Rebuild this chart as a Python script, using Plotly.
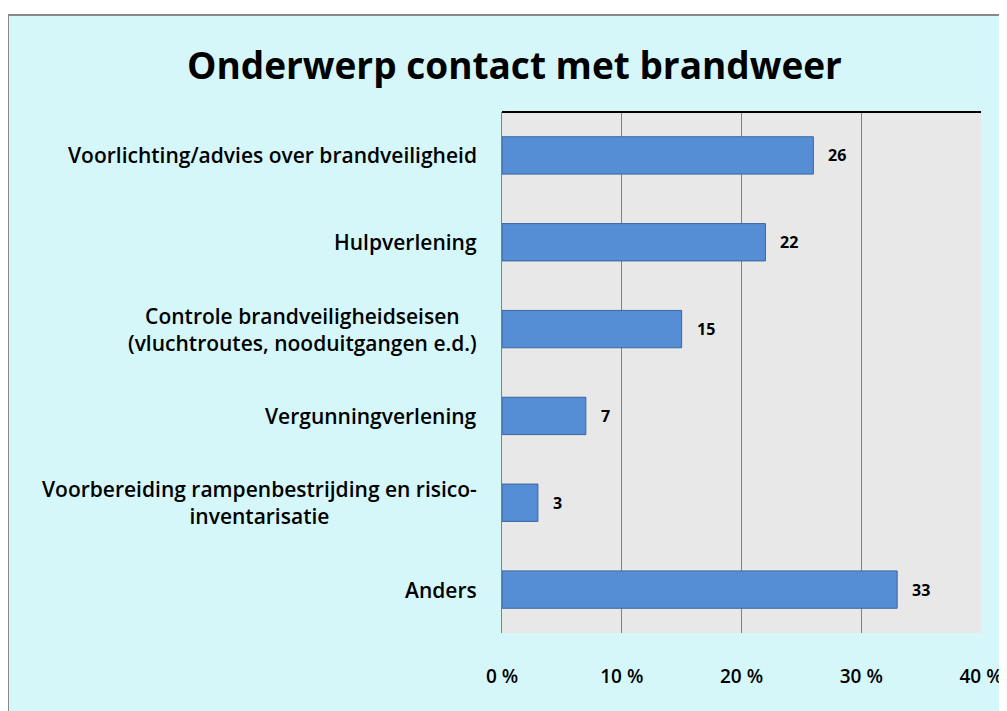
import plotly.graph_objects as go

categories = [
    "Voorlichting/advies over brandveiligheid",
    "Hulpverlening",
    "Controle brandveiligheidseisen<br>(vluchtroutes, nooduitgangen e.d.)",
    "Vergunningverlening",
    "Voorbereiding rampenbestrijding en risico-<br>inventarisatie",
    "Anders",
]
values = [26, 22, 15, 7, 3, 33]
tick_vals = [0, 10, 20, 30, 40]
tick_text = ["0 %", "10 %", "20 %", "30 %", "40 %"]
title_text = "Onderwerp contact met brandweer"

W, H = 1007, 711
OFF = 8  # page body margin
L, R, T, B = 502 - OFF, 981 - OFF, 112 - OFF, 633 - OFF
pw, ph = R - L, B - T

def px_x(x):
    return (x - OFF - L) / pw

def px_y(y):
    return (B - (y - OFF)) / ph

FONT = "Open Sans"

fig = go.Figure()
fig.add_trace(go.Bar(
    x=values,
    y=categories,
    orientation="h",
    marker=dict(color="#558ed5", line=dict(color="#3b64a0", width=1)),
    width=0.43,
    hoverinfo="x+y",
))

annotations = []
for c, v in zip(categories, values):
    annotations.append(dict(
        x=v, y=c, xref="x", yref="y", text=str(v), showarrow=False,
        xanchor="left", xshift=13,
        font=dict(family=FONT, size=16, color="#000000", weight=700),
    ))
    annotations.append(dict(
        x=px_x(479), y=c, xref="paper", yref="y", text=c, showarrow=False,
        xanchor="right", align="center",
        font=dict(family=FONT, size=21, color="#000000", weight=600),
    ))
annotations.append(dict(
    x=px_x(514), y=px_y(64), xref="paper", yref="paper", text=title_text,
    showarrow=False, xanchor="center", yanchor="middle",
    font=dict(family=FONT, size=37, color="#000000", weight=700),
))

shapes = [
    dict(type="rect", xref="paper", yref="paper", layer="below",
         x0=px_x(8), x1=px_x(1030), y0=px_y(740), y1=px_y(15),
         fillcolor="#d5f7fa", line=dict(color="#888888", width=2)),
    dict(type="rect", xref="paper", yref="paper", layer="below",
         x0=0, x1=1, y0=0, y1=1, fillcolor="#e8e8e8", line=dict(width=0)),
    dict(type="line", xref="paper", yref="paper", layer="above",
         x0=0, x1=1, y0=1, y1=1, line=dict(color="#000000", width=2)),
]

fig.update_layout(
    width=W, height=H,
    margin=dict(l=L, r=W - R, t=T, b=H - B),
    paper_bgcolor="#ffffff",
    plot_bgcolor="rgba(0,0,0,0)",
    showlegend=False,
    annotations=annotations,
    shapes=shapes,
    xaxis=dict(
        range=[0, 40], tickvals=tick_vals, ticktext=tick_text,
        showgrid=True, gridcolor="#808080", gridwidth=1,
        zeroline=False, showline=False, ticks="",
        ticklabelstandoff=30,
        tickfont=dict(family=FONT, size=19, color="#000000", weight=600),
        fixedrange=True,
    ),
    yaxis=dict(
        autorange="reversed", showticklabels=False, ticks="",
        showgrid=False, zeroline=False,
        showline=True, linecolor="#808080", linewidth=1,
        fixedrange=True,
    ),
)

fig.write_html("out.html")
